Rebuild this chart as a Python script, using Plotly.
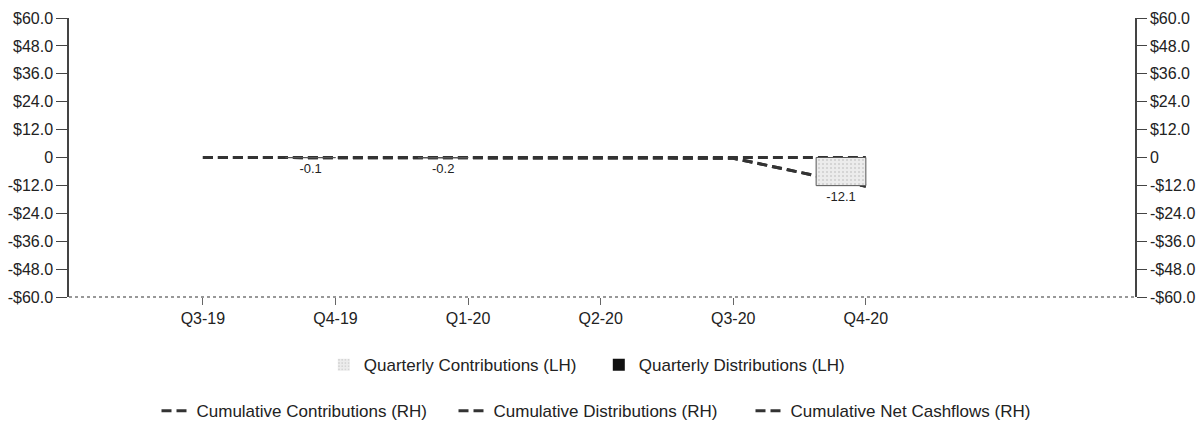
import plotly.graph_objects as go

quarters = ["Q3-19", "Q4-19", "Q1-20", "Q2-20", "Q3-20", "Q4-20"]
q_contrib = [0.0, -0.1, -0.2, 0.0, 0.0, -12.1]
q_contrib_text = ["", "-0.1", "-0.2", "", "", "-12.1"]
q_distrib = [0.0, 0.0, 0.0, 0.0, 0.0, 0.0]
cum_contrib = [0.0, -0.1, -0.3, -0.3, -0.3, -12.4]
cum_distrib = [0.0, 0.0, 0.0, 0.0, 0.0, 0.0]
cum_net = [0.0, -0.1, -0.3, -0.3, -0.3, -12.4]

tick_vals = [60, 48, 36, 24, 12, 0, -12, -24, -36, -48, -60]
tick_text = ["$60.0", "$48.0", "$36.0", "$24.0", "$12.0", "0",
             "-$12.0", "-$24.0", "-$36.0", "-$48.0", "-$60.0"]

x = list(range(len(quarters)))
FONT = "Liberation Sans, Arial, sans-serif"
DARK = "#333333"
contrib_outline = [1 if v != 0 else 0 for v in q_contrib]

fig = go.Figure()

# cumulative lines (RH) drawn beneath bars
for vals, nm in [(cum_contrib, "Cumulative Contributions (RH)"),
                 (cum_distrib, "Cumulative Distributions (RH)"),
                 (cum_net, "Cumulative Net Cashflows (RH)")]:
    fig.add_trace(go.Scatter(x=x, y=vals, mode="lines", name=nm,
                             line=dict(color=DARK, width=3, dash="10px,5px"),
                             yaxis="y", legend="legend2"))

# quarterly bars (LH)
fig.add_trace(go.Bar(x=x, y=q_contrib, name="Quarterly Contributions (LH)",
                     marker=dict(color="#e4e4e4", line=dict(color="#555555", width=contrib_outline),
                                 pattern=dict(shape=".", fgcolor="#b0b0b0", bgcolor="#ececec", size=4, solidity=0.2)),
                     text=q_contrib_text, textposition="outside",
                     textfont=dict(family=FONT, size=13, color="#222"),
                     cliponaxis=False, yaxis="y2", legend="legend"))
fig.add_trace(go.Bar(x=x, y=q_distrib, name="Quarterly Distributions (LH)",
                     marker=dict(color="#111111", line=dict(width=0)),
                     yaxis="y2", legend="legend"))

fig.update_layout(
    width=1204, height=421,
    margin=dict(l=69, r=69, t=18, b=124, autoexpand=False),
    paper_bgcolor="white", plot_bgcolor="white",
    font=dict(family=FONT, size=14, color="#222"),
    barmode="group", bargap=0.25, bargroupgap=0,
    xaxis=dict(range=[-1.01, 7.03], tickvals=x, ticktext=quarters, showgrid=False,
               zeroline=False, showline=False, ticks="outside", ticklen=7, tickcolor="#666",
               tickfont=dict(size=16)),
    yaxis=dict(range=[-60, 60], tickvals=tick_vals, ticktext=tick_text, showgrid=False,
               zeroline=False, showline=True, linecolor="#444", linewidth=1.5,
               ticks="outside", ticklen=11, tickcolor="#444", tickfont=dict(size=16)),
    yaxis2=dict(range=[-60, 60], tickvals=tick_vals, ticktext=tick_text, showgrid=False,
                zeroline=False, showline=True, linecolor="#444", linewidth=1.5,
                overlaying="y", side="right", ticks="outside", ticklen=10, tickcolor="#444",
                tickfont=dict(size=16)),
    legend=dict(orientation="h", x=0.497, xanchor="center", y=-0.244, yanchor="middle",
                font=dict(size=17), itemwidth=30, entrywidth=230, traceorder="normal",
                bgcolor="rgba(0,0,0,0)"),
    legend2=dict(orientation="h", x=0.5, xanchor="center", y=-0.409, yanchor="middle",
                 font=dict(size=17), itemwidth=30, entrywidth=252, traceorder="normal",
                 bgcolor="rgba(0,0,0,0)"),
    showlegend=True,
    shapes=[dict(type="line", xref="paper", yref="paper", x0=0, x1=1, y0=0, y1=0,
                 line=dict(color="#777", width=1.5, dash="dot"))],
)

fig.write_html("out.html", config={"displayModeBar": False},
               post_script="document.body.style.margin='0';document.body.style.overflow='hidden';")
